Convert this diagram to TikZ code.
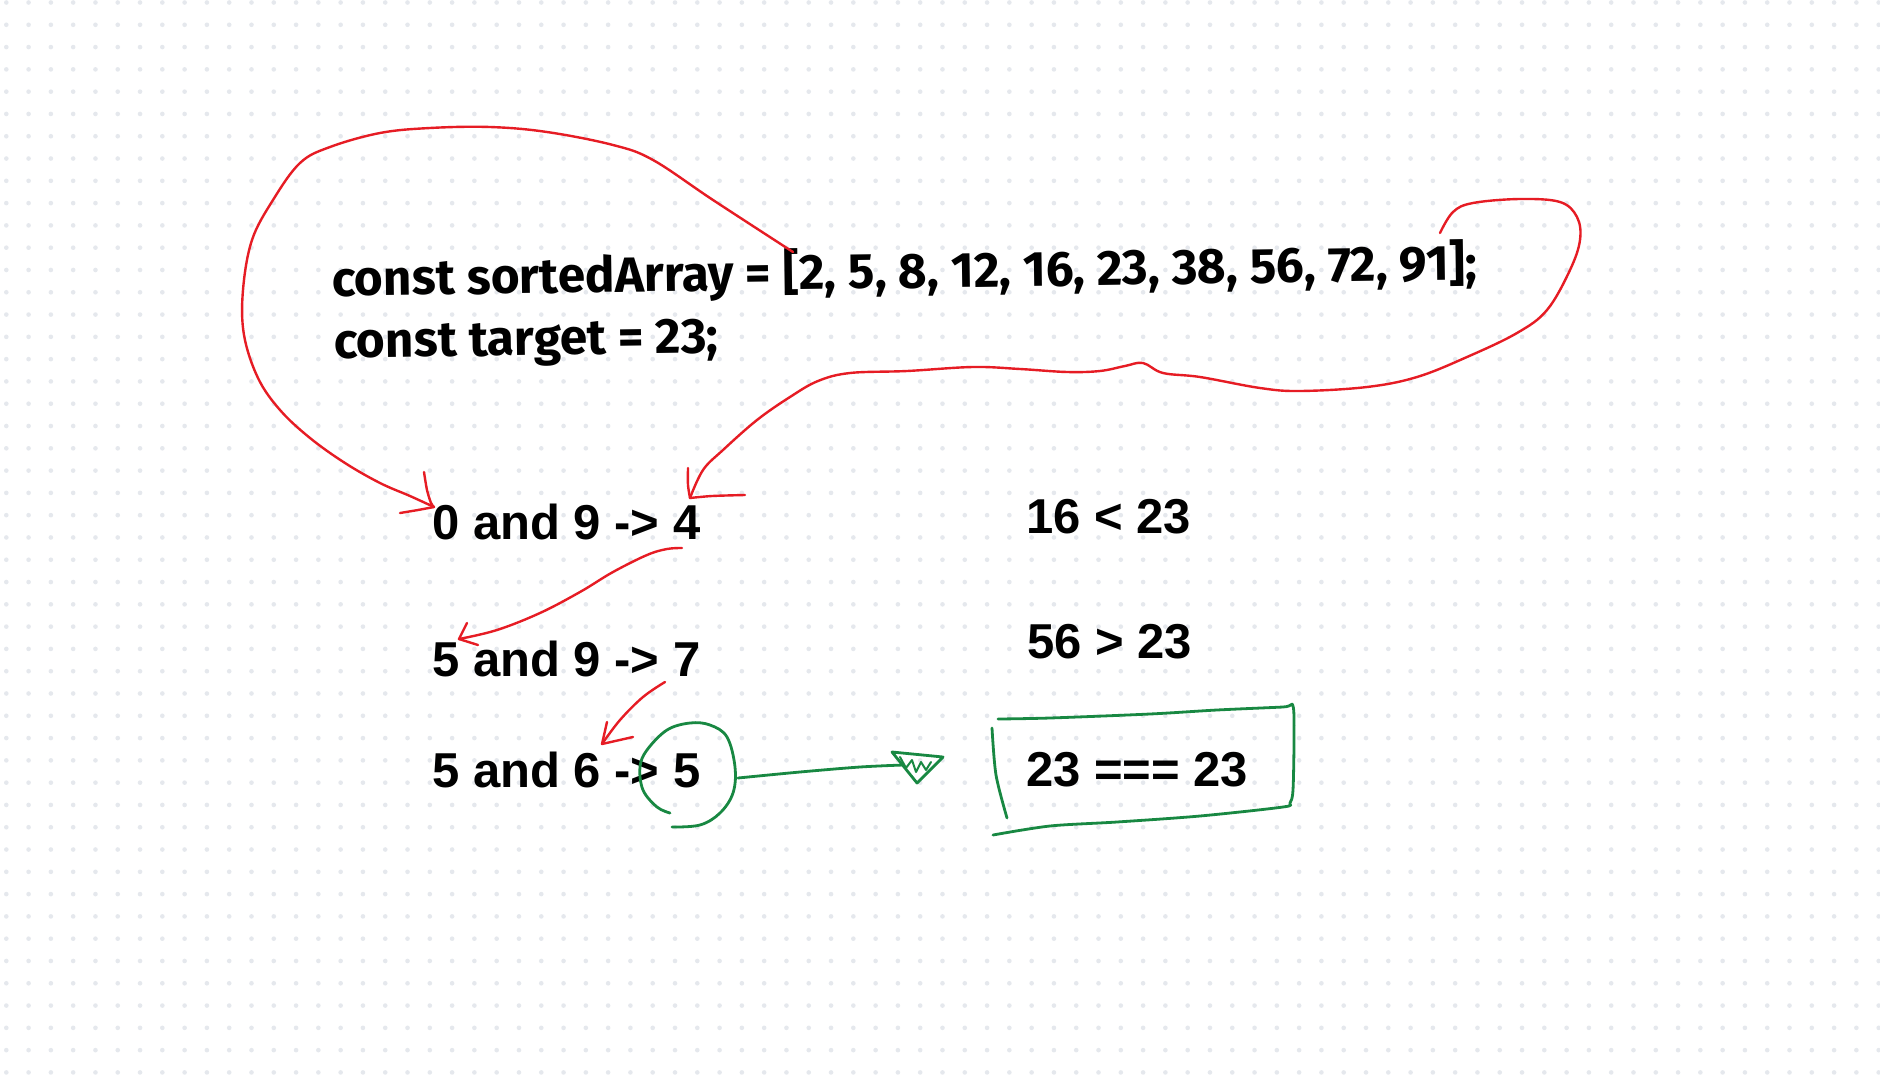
\documentclass[tikz,border=0pt]{standalone}
\usepackage{fontspec}
\setmainfont{Liberation Sans}
\newfontfamily\topfont{Fira Sans}
\definecolor{redpen}{RGB}{230,28,36}
\definecolor{greenpen}{RGB}{24,136,66}
\definecolor{dotc}{RGB}{229,232,237}
\tikzset{
  lbl/.style={inner sep=0pt, anchor=base west, font=\bfseries\fontsize{49}{58}\selectfont},
  code/.style={inner sep=0pt, anchor=base west, rotate=0.8, font=\topfont\bfseries\fontsize{49.5}{58}\selectfont},
  redstroke/.style={draw=redpen, line width=2.4pt, line cap=round, line join=round},
  greenstroke/.style={draw=greenpen, line width=2.8pt, line cap=round, line join=round}
}
\begin{document}
\begin{tikzpicture}[x=1pt,y=-1pt]
\useasboundingbox (0,0) rectangle (1880,1082);
\fill[white] (0,0) rectangle (1880,1082);
\foreach \i in {0,...,84}{\foreach \j in {0,...,48}{\fill[dotc] ({6.3+22.29*\i},{2.5+22.29*\j}) circle (2.3);}}
% texts
\node[code] (line1) at (332,296) {const sortedArray = [2, 5, 8, 12, 16, 23, 38, 56, 72, 91];};
\node[code] (line2) at (334,358) {const target = 23;};
\node[lbl] (s1) at (432,539) {0 and 9 -> 4};
\node[lbl] (s2) at (432,676) {5 and 9 -> 7};
\node[lbl] (s3) at (432,787) {5 and 6 -> 5};
\node[lbl] (c1) at (1026,533) {16 < 23};
\node[lbl] (c2) at (1027,658) {56 > 23};
\node[lbl] (c3) at (1026,786) {23 === 23};
% anchor coordinates
\coordinate (aS) at (793,252);
\coordinate (aT) at (434,507);
\coordinate (bS) at (1440,233);
\coordinate (bT) at (690,498);
\coordinate (cS) at (682,548);
\coordinate (cT) at (459,639);
\coordinate (dS) at (665,682);
\coordinate (dT) at (602,744);
\coordinate (gS) at (738,778);
\coordinate (gT) at (903,765);
% curve A
\draw[redstroke] plot[smooth, tension=0.6] coordinates {(aS) (713,200) (653,160) (613,145) (547,132) (490,127) (430,128) (380,133) (330,147) (300,163) (273,200) (252,240) (243,290) (244,335) (258,378) (280,410) (310,438) (345,463) (380,483) (410,496) (aT)};
\draw[redstroke] plot[smooth] coordinates {(424,472) (427,490) (431,503) (aT)};
\draw[redstroke] plot[smooth] coordinates {(400,513) (418,510) (aT)};
% curve B
\draw[redstroke] plot[smooth, tension=0.6] coordinates {(bS) (1453,212) (1473,203) (1520,199) (1560,202) (1577,217) (1580,240) (1570,270) (1547,310) (1517,333) (1467,357) (1417,377) (1367,387) (1300,391) (1260,388) (1200,377) (1163,373) (1143,363) (1125,366) (1100,371) (1067,372) (1020,369) (973,367) (907,371) (850,373) (818,381) (790,397) (757,420) (723,450) (703,470) (bT)};
\draw[redstroke] plot[smooth] coordinates {(688,468) (688,485) (bT)};
\draw[redstroke] plot[smooth] coordinates {(bT) (712,496) (745,495)};
% curve C
\draw[redstroke] plot[smooth, tension=0.6] coordinates {(cS) (667,549) (647,555) (613,572) (580,592) (540,613) (497,630) (cT)};
\draw[redstroke] (467,623) -- (cT) -- (478,645);
% curve D
\draw[redstroke] plot[smooth, tension=0.6] coordinates {(dS) (643,697) (620,720) (dT)};
\draw[redstroke] (607,722) -- (dT) -- (633,737);
% green circle
\draw[greenstroke] plot[smooth, tension=0.6] coordinates {(670,813) (657,807) (643,790) (640,767) (647,750) (667,730) (690,723) (710,725) (727,737) (735,767) (733,793) (720,813) (700,825) (672,827)};
% green arrow
\draw[greenstroke] plot[smooth] coordinates {(gS) (800,772) (860,767) (gT)};
\draw[greenstroke] (892,752) -- (943,757) -- (917,783) -- cycle;
\draw[greenstroke, line width=2pt] (900,757) -- (906,768) -- (912,760) -- (916,772) -- (921,762) -- (926,770) -- (931,762);
% green box
\draw[greenstroke] plot[smooth, tension=0.5] coordinates {(998,719) (1050,718) (1150,714) (1217,710) (1283,707) (1293,706) (1294,740) (1293,790) (1290,803) (1283,807) (1200,816) (1117,822) (1050,826) (993,835)};
\draw[greenstroke] plot[smooth] coordinates {(992,728) (996,775) (1007,818)};
\end{tikzpicture}
\end{document}
